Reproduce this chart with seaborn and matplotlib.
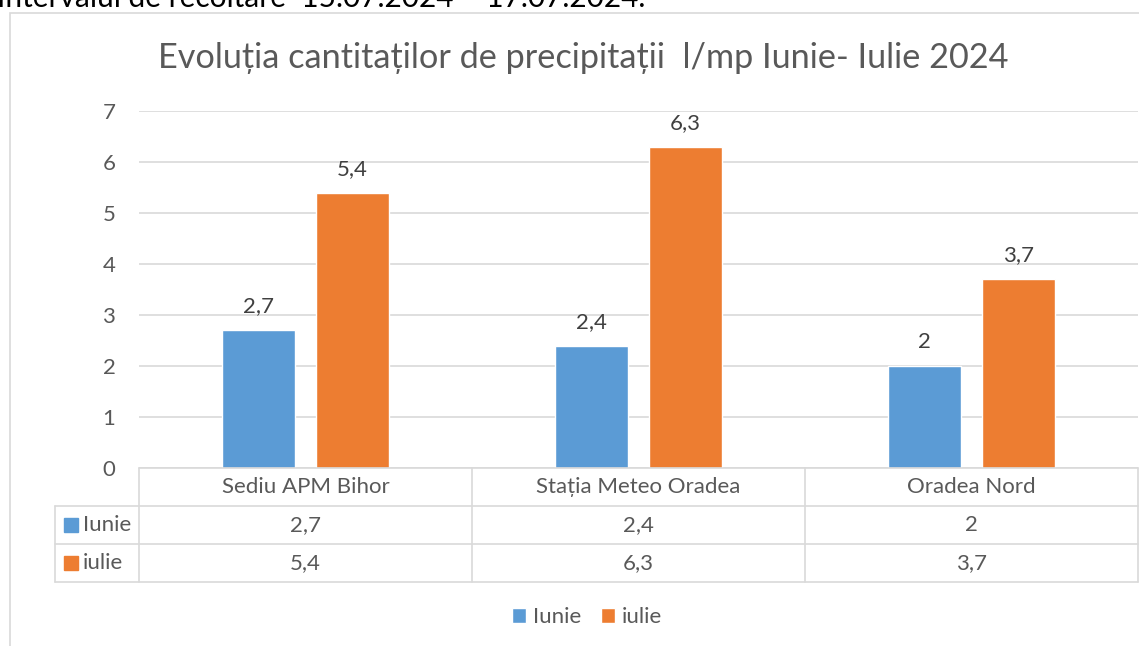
import numpy as np
import pandas as pd
import matplotlib
matplotlib.use("Agg")
import matplotlib.pyplot as plt
import matplotlib.patches as mpatches
import seaborn as sns

# date
statii = ["Sediu APM Bihor", "Stația Meteo Oradea", "Oradea Nord"]
luni = ["Iunie", "iulie"]
iunie = [2.7, 2.4, 2.0]
iulie = [5.4, 6.3, 3.7]
culori = ["#5B9BD5", "#ED7D31"]
yticks = [0, 1, 2, 3, 4, 5, 6, 7]

df = pd.DataFrame({
    "statie": statii * 2,
    "luna": [luni[0]] * 3 + [luni[1]] * 3,
    "valoare": iunie + iulie,
})

def fmt_ro(v):
    return f"{v:g}".replace(".", ",")

sns.set_theme(style="white")
plt.rcParams["font.family"] = ["Lato", "DejaVu Sans"]
gri = "#595959"
linie = "#D9D9D9"
fs = 16

W, H = 1139, 646
fig = plt.figure(figsize=(W / 100, H / 100), dpi=100)

# chenar si textul de deasupra (taiat sus, ca in original)
fig.patches.append(mpatches.Rectangle((10 / W, -0.2), 1.2, 1 - 13 / H + 0.2,
                                      transform=fig.transFigure, fill=False,
                                      edgecolor=linie, lw=1.2))
fig.text(-0.003, 1 - 7 / H, "Intervalul de recoltare  15.07.2024 – 17.07.2024.",
         fontsize=21.5, color="black", va="baseline", ha="left")

ax = fig.add_axes([139 / W, 1 - 468 / H, (1138 - 139) / W, 357 / H])
sns.barplot(data=df, x="statie", y="valoare", hue="luna", palette=culori,
            saturation=1, width=0.56, gap=0.215, ax=ax, legend=True)

for c in ax.containers:
    ax.bar_label(c, labels=[fmt_ro(v) for v in c.datavalues], padding=10,
                 fontsize=fs, color="#404040")

ax.set_ylim(0, 7)
ax.set_xlim(-0.5, 2.5)
ax.set_yticks(yticks)
ax.set_yticklabels([str(t) for t in yticks], fontsize=fs, color=gri)
ax.tick_params(axis="y", length=0, pad=17)
ax.set_xticks([])
ax.set_xlabel("")
ax.set_ylabel("")
for s in ax.spines.values():
    s.set_visible(False)
ax.yaxis.grid(True, color=linie, lw=1.2)
ax.set_axisbelow(True)

# tabelul de date sub axa
rh = 38 / 357
x0 = -0.5 - 84 / 333
tr = ax.get_xaxis_transform()
kw = dict(color=linie, lw=1.2, clip_on=False, transform=tr)
ax.plot([-0.5, 2.5], [0, 0], **kw)
for k in (1, 2, 3):
    ax.plot([x0, 2.5], [-k * rh, -k * rh], **kw)
for xb in (-0.5, 0.5, 1.5, 2.5):
    ax.plot([xb, xb], [0, -3 * rh], **kw)
ax.plot([x0, x0], [-rh, -3 * rh], **kw)

for i, st in enumerate(statii):
    ax.text(i, -0.5 * rh, st, ha="center", va="center", fontsize=fs,
            color=gri, transform=tr)
    ax.text(i, -1.5 * rh, fmt_ro(iunie[i]), ha="center", va="center",
            fontsize=fs, color=gri, transform=tr)
    ax.text(i, -2.5 * rh, fmt_ro(iulie[i]), ha="center", va="center",
            fontsize=fs, color=gri, transform=tr)
for j, (lab, col) in enumerate(zip(luni, culori)):
    yc = -(1.5 + j) * rh
    ax.add_patch(mpatches.Rectangle((x0 + 9 / 333, yc - 7 / 357), 14 / 333, 14 / 357,
                                    color=col, transform=tr, clip_on=False))
    ax.text(x0 + 28 / 333, yc, lab, ha="left", va="center", fontsize=fs,
            color=gri, transform=tr)

# legenda de jos
handles, labels = ax.get_legend_handles_labels()
ax.get_legend().remove()
fig.legend(handles, labels, loc="center", bbox_to_anchor=(587 / W, 1 - 617 / H),
           ncol=2, frameon=False, fontsize=fs, handlelength=0.65, handleheight=0.65,
           handletextpad=0.3, columnspacing=0.9, labelcolor=gri)

fig.text(583 / W, 1 - 58 / H, "Evoluția cantitaților de precipitații  l/mp Iunie- Iulie 2024",
         ha="center", va="center", fontsize=24.7, color=gri)

fig.savefig("out.png", dpi=100)
